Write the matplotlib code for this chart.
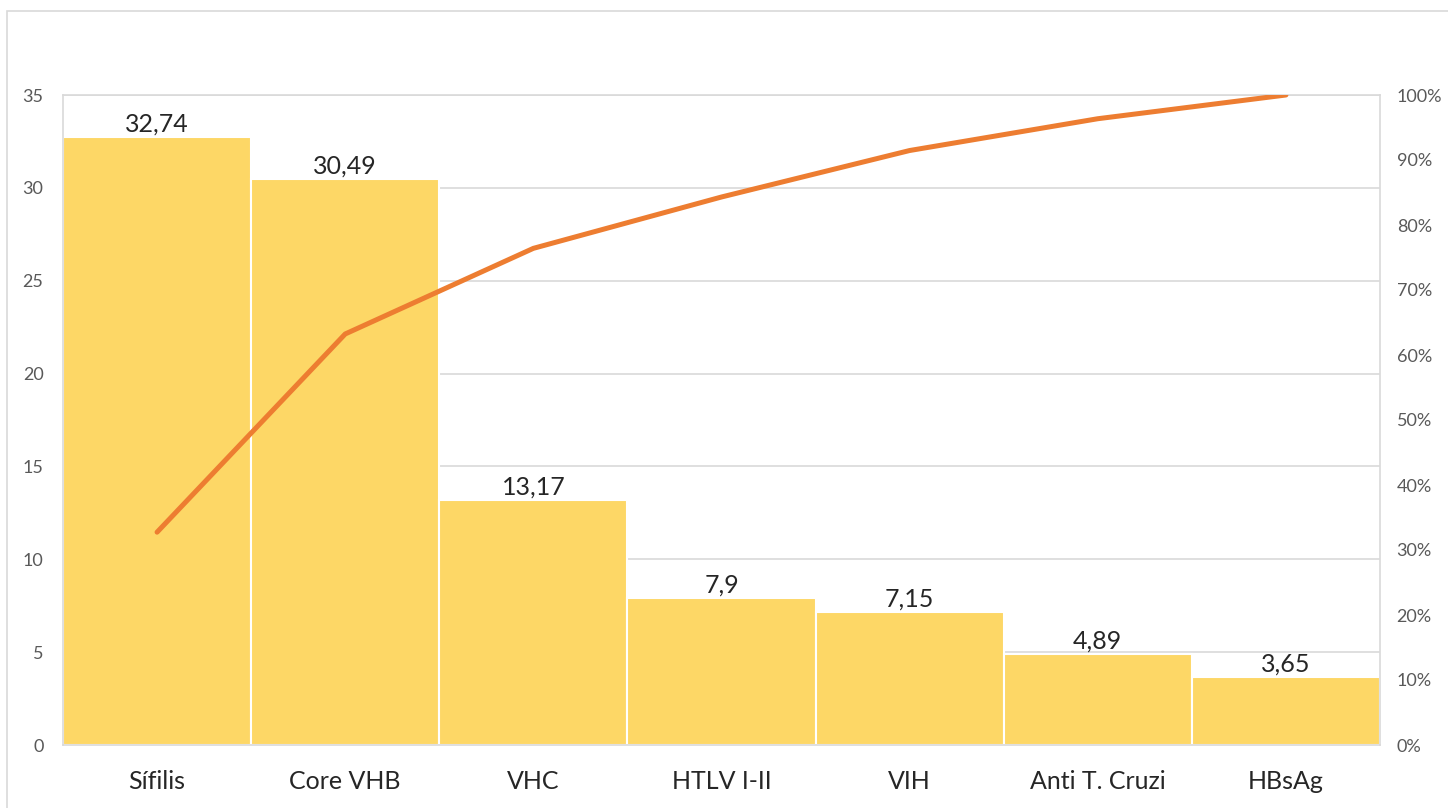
import matplotlib.pyplot as plt
from matplotlib.patches import Rectangle
from matplotlib.ticker import PercentFormatter

categories = ["Sífilis", "Core VHB", "VHC", "HTLV I-II", "VIH", "Anti T. Cruzi", "HBsAg"]
values = [32.74, 30.49, 13.17, 7.9, 7.15, 4.89, 3.65]
labels = ["32,74", "30,49", "13,17", "7,9", "7,15", "4,89", "3,65"]

total = sum(values)
cum = []
s = 0
for v in values:
	s += v
	cum.append(s / total * 100)

plt.rcParams['font.family'] = ['Lato', 'DejaVu Sans']

fig = plt.figure(figsize=(14.48, 8.08), dpi=100)
fig.patches.append(Rectangle((7/1448, -0.05), 1.1, 0.986 + 0.05, transform=fig.transFigure,
	fill=False, edgecolor='#d9d9d9', linewidth=1.2))

ax = fig.add_axes([63/1448, 63/808, 1317/1448, 650/808])
x = list(range(len(categories)))
ax.bar(x, values, width=1.0, color='#FDD766', edgecolor='white', linewidth=1.5, zorder=2)
ax.set_xlim(-0.5, len(categories) - 0.5)
ax.set_ylim(0, 35)
ax.set_yticks(range(0, 36, 5))
ax.grid(axis='y', color='#d9d9d9', linewidth=1.2, zorder=0)
ax.set_axisbelow(True)
for sp in ax.spines.values():
	sp.set_color('#d9d9d9')
	sp.set_linewidth(1.2)
ax.tick_params(axis='y', length=0, pad=14, labelsize=13, labelcolor='#595959')
ax.tick_params(axis='x', length=0, pad=18, labelsize=18, labelcolor='#262626')
ax.set_xticks(x)
ax.set_xticklabels(categories)

for xi, v, lab in zip(x, values, labels):
	ax.annotate(lab, (xi, v), xytext=(0, 1), textcoords='offset points',
		ha='center', va='bottom', fontsize=18, color='#262626')

ax2 = ax.twinx()
ax2.plot(x, cum, color='#ED7D31', linewidth=3.6, solid_capstyle='round', zorder=3)
ax2.set_ylim(0, 100)
ax2.set_yticks(range(0, 101, 10))
ax2.yaxis.set_major_formatter(PercentFormatter(decimals=0))
ax2.tick_params(axis='y', length=0, pad=12, labelsize=13, labelcolor='#595959')
for sp in ax2.spines.values():
	sp.set_visible(False)

fig.savefig("out.png", dpi=100)
